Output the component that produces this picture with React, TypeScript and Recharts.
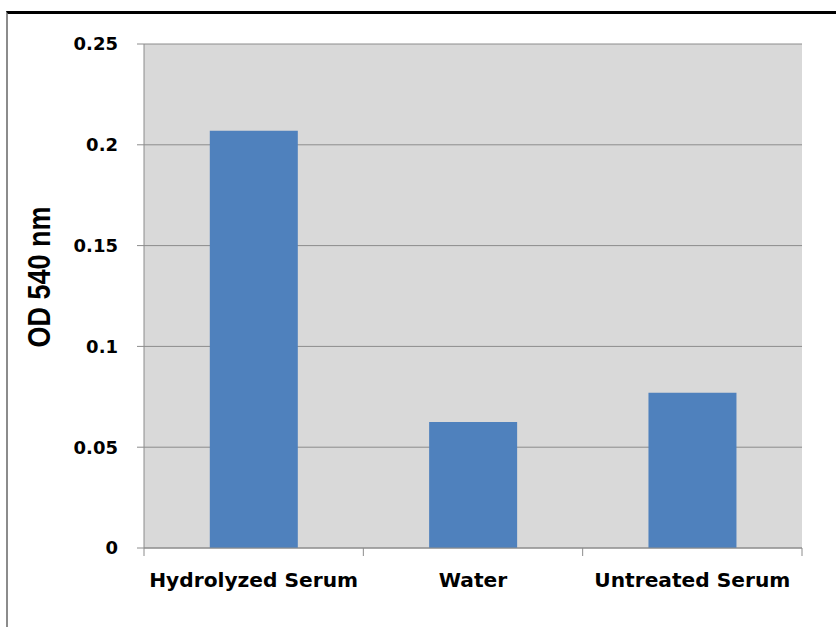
import { BarChart, Bar, XAxis, YAxis, CartesianGrid } from 'recharts';

const categories = ['Hydrolyzed Serum', 'Water', 'Untreated Serum'];
const odValues = [0.207, 0.0625, 0.077];
const yTicks = [0, 0.05, 0.1, 0.15, 0.2, 0.25];
const yTickLabels = ['0', '0.05', '0.1', '0.15', '0.2', '0.25'];

const data = categories.map((name, i) => ({ name, od: odValues[i] }));

const W = 836;
const H = 627;
const margin = { top: 44, right: 34, bottom: 39, left: 0 };
const yAxisWidth = 144;
const bandWidth = (W - margin.left - margin.right - yAxisWidth) / categories.length;

const tickFont = '"DejaVu Sans", Verdana, sans-serif';

const CategoryTick = (props: any) => {
  const { x, y, payload, index } = props;
  const last = index === categories.length - 1;
  return (
    <g>
      <line x1={x - bandWidth / 2} x2={x - bandWidth / 2} y1={y - 8} y2={y} stroke="#8c8c8c" />
      {last && <line x1={x + bandWidth / 2} x2={x + bandWidth / 2} y1={y - 8} y2={y} stroke="#8c8c8c" />}
      <text x={x} y={y + 31} textAnchor="middle" fontFamily={tickFont} fontWeight="bold" fontSize={20.2} fill="#000">
        {payload.value}
      </text>
    </g>
  );
};

const YLabel = (props: any) => {
  const { viewBox } = props;
  const cx = 50;
  const cy = viewBox.y + viewBox.height / 2 - 19;
  return (
    <text
      x={cx}
      y={cy}
      transform={`rotate(-90 ${cx} ${cy})`}
      textAnchor="middle"
      fontFamily='"Liberation Sans", Arial, sans-serif'
      fontWeight="bold"
      fontSize={31}
      textLength={141}
      lengthAdjust="spacingAndGlyphs"
      fill="#000"
    >
      OD 540 nm
    </text>
  );
};

const App = () => {
  return (
    <div style={{ position: 'absolute', left: 0, top: 0, width: W, height: H, background: '#fff' }}>
      <BarChart width={W} height={H} data={data} margin={margin} barCategoryGap="30%">
        <CartesianGrid vertical={false} fill="#d9d9d9" stroke="#8c8c8c" fillOpacity={1} />
        <XAxis
          dataKey="name"
          height={40}
          axisLine={{ stroke: '#8c8c8c' }}
          tickLine={false}
          tick={<CategoryTick />}
          interval={0}
        />
        <YAxis
          width={yAxisWidth}
          domain={[0, 0.25]}
          ticks={yTicks}
          tickFormatter={(v: number) => yTickLabels[yTicks.indexOf(v)] ?? String(v)}
          axisLine={{ stroke: '#8c8c8c' }}
          tickLine={{ stroke: '#8c8c8c' }}
          tickSize={7}
          tickMargin={19}
          tick={{ fontFamily: tickFont, fontWeight: 'bold', fontSize: 18, fill: '#000' }}
          label={<YLabel />}
        />
        <Bar dataKey="od" fill="#4f81bd" isAnimationActive={false} />
      </BarChart>
      <div
        style={{
          position: 'absolute',
          left: 6,
          top: 11,
          width: W - 6,
          height: H - 11,
          boxSizing: 'border-box',
          borderTop: '3px solid #000',
          borderLeft: '2px solid #8c8c8c',
          pointerEvents: 'none',
        }}
      />
    </div>
  );
};

export default App;
